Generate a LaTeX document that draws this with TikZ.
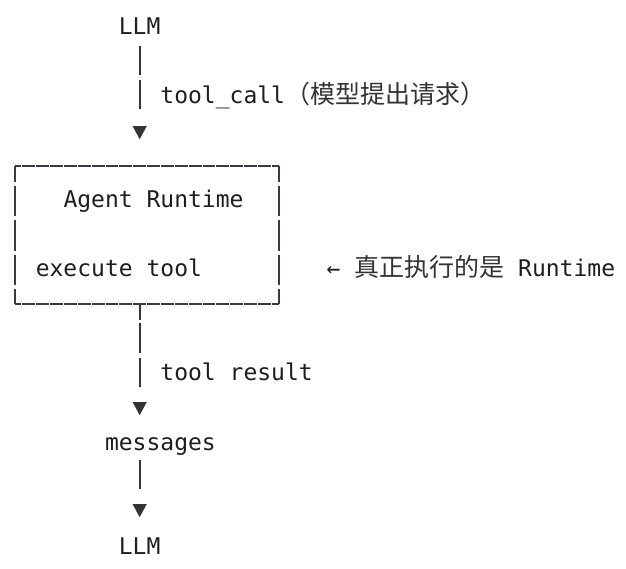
\documentclass[tikz,border=0pt]{standalone}
\usepackage{fontspec}
\newfontfamily\mono{DejaVu Sans Mono}
\newfontfamily\cjk{Noto Sans CJK SC}
\usetikzlibrary{arrows.meta}
\definecolor{ink}{HTML}{1E1E1E}
\definecolor{cjkink}{HTML}{333333}
\definecolor{edge}{HTML}{333333}
\definecolor{boxedge}{HTML}{3B3B45}
\newcommand{\gx}[1]{(8.1+13.85*(#1))}
\newcommand{\gy}[1]{(34.3+34.65*(#1))}
\newcommand{\cj}[1]{{\cjk\fontsize{25}{25}\selectfont\color{cjkink}#1}}
\tikzset{
  txt/.style={anchor=base west, inner sep=0pt, outer sep=0pt,
    font=\mono\fontsize{23}{23}\selectfont, text=ink},
  conn/.style={draw=edge, line width=1.8pt,
    -{Triangle[width=14pt,length=13pt,line width=0.01pt]}},
  hedge/.style={draw=boxedge, line width=1.7pt, dash pattern=on 12.85pt off 1pt, dash phase=6.4pt},
  vedge/.style={draw=boxedge, line width=1.7pt, dash pattern=on 30.65pt off 4pt, dash phase=15.15pt}
}
\begin{document}
\begin{tikzpicture}[x=1pt,y=-1pt]
\useasboundingbox[fill=white] (0,0) rectangle (626,568);
% text rows
\node[txt] (llm1) at ({\gx{8}},{\gy{0}}) {LLM};
\node[txt] (call) at ({\gx{11}},{\gy{2}}) {tool\char`\_call\cj{（模型提出请求）}};
\node[txt] (agent) at ({\gx{4}},{\gy{5}}) {Agent Runtime};
\node[txt] (exec) at ({\gx{2}},{\gy{7}}) {execute tool};
\node[txt] (note) at ({\gx{23}},{\gy{7}}) {←\ \cj{真正执行的是}\ Runtime};
\node[txt] (result) at ({\gx{11}},{\gy{10}}) {tool result};
\node[txt] (msg) at ({\gx{7}},{\gy{12}}) {messages};
\node[txt] (llm2) at ({\gx{8}},{\gy{15}}) {LLM};
% box
\node[minimum width=264pt, minimum height=138pt, inner sep=0pt, outer sep=0pt] (rt) at (147,235) {};
\draw[hedge] (rt.north west) -- (rt.north east);
\draw[hedge] (rt.south west) -- (rt.south east);
\draw[vedge] (rt.north west) -- (rt.south west);
\draw[vedge] (rt.north east) -- (rt.south east);
% connectors
\coordinate (tip1) at (llm1.base |- 0,139);
\coordinate (tip2) at (llm1.base |- 0,415);
\coordinate (tip3) at (llm1.base |- 0,517);
\draw[conn, dash pattern=on 29pt off 5pt on 29pt off 40pt, shorten <=11.2pt] (llm1.base) -- (tip1);
\draw[conn, dash pattern=on 16pt off 3pt on 30pt off 5pt on 29pt off 40pt] (llm1.base |- rt.south) -- (tip2);
\draw[conn, dash pattern=on 29pt off 40pt, shorten <=10.2pt] (tip3 |- msg.base) -- (tip3);
\end{tikzpicture}
\end{document}
